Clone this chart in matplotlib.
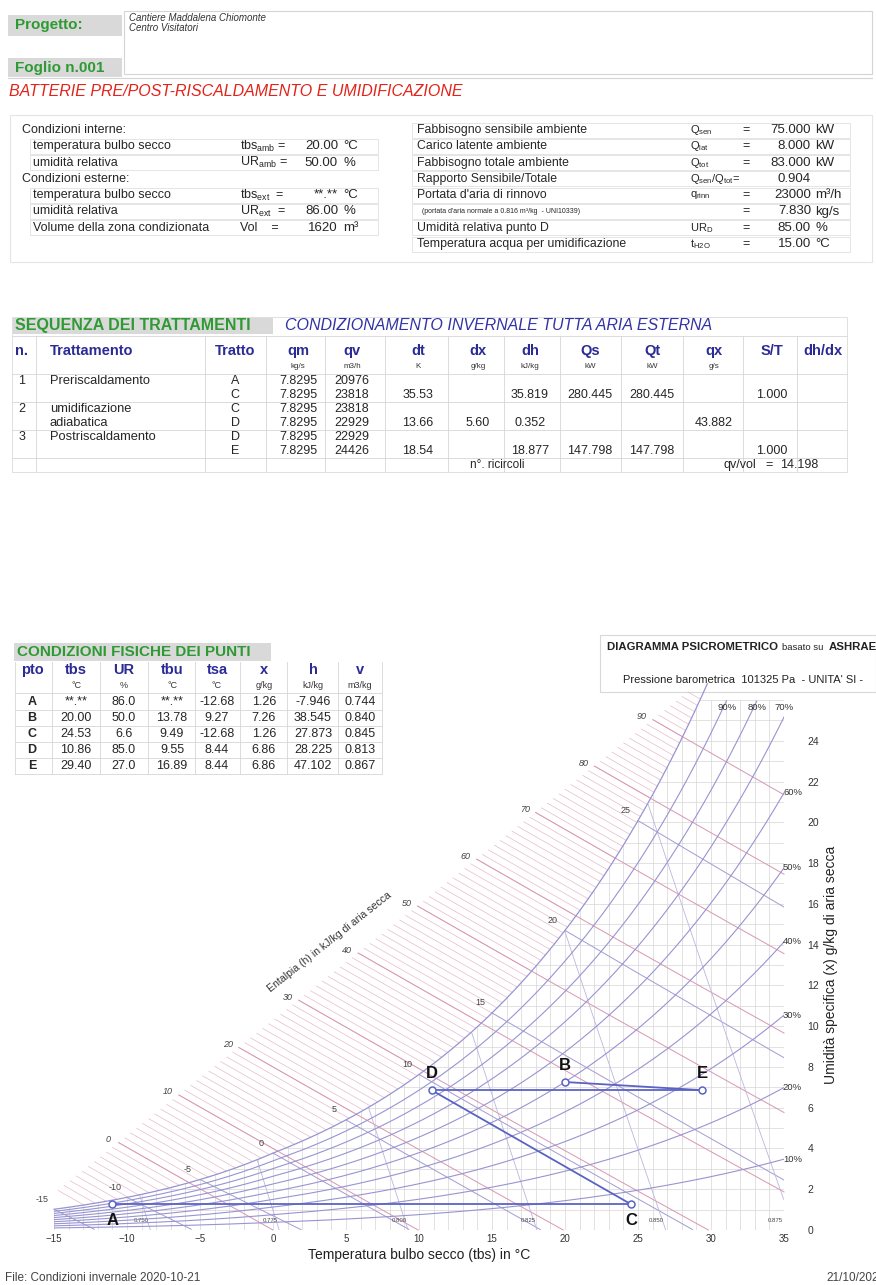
import numpy as np
import matplotlib
matplotlib.use("Agg")
import matplotlib.pyplot as plt
from matplotlib.patches import Rectangle

plt.rcParams['font.family'] = ['Liberation Sans', 'DejaVu Sans']
plt.rcParams['mathtext.fontset'] = 'custom'
plt.rcParams['mathtext.rm'] = 'Liberation Sans'
plt.rcParams['mathtext.it'] = 'Liberation Sans:italic'
plt.rcParams['mathtext.bf'] = 'Liberation Sans:bold'

# ======================= DATA =======================
progetto_righe = ["Cantiere Maddalena Chiomonte", "Centro Visitatori"]
foglio = "Foglio n.001"
titolo = "BATTERIE PRE/POST-RISCALDAMENTO E UMIDIFICAZIONE"

cond_sx_testi = ["Condizioni interne:", "temperatura bulbo secco", "umidità relativa",
                 "Condizioni esterne:", "temperatura bulbo secco", "umidità relativa",
                 "Volume della zona condizionata"]
cond_sx_simboli = ["", r"tbs$_{\rm amb}$ =", r"UR$_{\rm amb}$ =", "", r"tbs$_{\rm ext}$  =",
                   r"UR$_{\rm ext}$  =", "Vol    ="]
cond_sx_valori = ["", "20.00", "50.00", "", "**.**", "86.00", "1620"]
cond_sx_unita = ["", "°C", "%", "", "°C", "%", "m³"]

cond_dx_testi = ["Fabbisogno sensibile ambiente", "Carico latente ambiente",
                 "Fabbisogno totale ambiente", "Rapporto Sensibile/Totale",
                 "Portata d'aria di rinnovo",
                 "(portata d'aria normale a 0.816 m³/kg  - UNI10339)",
                 "Umidità relativa punto D", "Temperatura acqua per umidificazione"]
cond_dx_simboli = [r"Q$_{\rm sen}$", r"Q$_{\rm lat}$", r"Q$_{\rm tot}$",
                   r"Q$_{\rm sen}$/Q$_{\rm tot}$=", r"q$_{\rm rinn}$", "", r"UR$_{\rm D}$",
                   r"t$_{\rm H2O}$"]
cond_dx_uguale = ["=", "=", "=", "", "=", "=", "=", "="]
cond_dx_valori = ["75.000", "8.000", "83.000", "0.904", "23000", "7.830", "85.00", "15.00"]
cond_dx_unita = ["kW", "kW", "kW", "", "m³/h", "kg/s", "%", "°C"]

seq_titolo = "SEQUENZA DEI TRATTAMENTI"
seq_sottotitolo = "CONDIZIONAMENTO INVERNALE TUTTA ARIA ESTERNA"
seq_colonne = ["n.", "Trattamento", "Tratto", "qm", "qv", "dt", "dx", "dh", "Qs", "Qt", "qx", "S/T", "dh/dx"]
seq_unita = ["", "", "", "kg/s", "m3/h", "K", "g/kg", "kJ/kg", "kW", "kW", "g/s", "", ""]
seq_n = ["1", "", "2", "", "3", ""]
seq_trattamento = ["Preriscaldamento", "", "umidificazione", "adiabatica", "Postriscaldamento", ""]
seq_tratto = ["A", "C", "C", "D", "D", "E"]
seq_qm = ["7.8295", "7.8295", "7.8295", "7.8295", "7.8295", "7.8295"]
seq_qv = ["20976", "23818", "23818", "22929", "22929", "24426"]
seq_dt = ["", "35.53", "", "13.66", "", "18.54"]
seq_dx = ["", "", "", "5.60", "", ""]
seq_dh = ["", "35.819", "", "0.352", "", "18.877"]
seq_qs = ["", "280.445", "", "", "", "147.798"]
seq_qt = ["", "280.445", "", "", "", "147.798"]
seq_qx = ["", "", "", "43.882", "", ""]
seq_st = ["", "1.000", "", "", "", "1.000"]
seq_dhdx = ["", "", "", "", "", ""]
ricircoli_txt = "n°. ricircoli"
qv_vol_val = "14.198"

pt_titolo = "CONDIZIONI FISICHE DEI PUNTI"
pt_colonne = ["pto", "tbs", "UR", "tbu", "tsa", "x", "h", "v"]
pt_unita = ["", "°C", "%", "°C", "°C", "g/kg", "kJ/kg", "m3/kg"]
punti = ["A", "B", "C", "D", "E"]
punti_tbs_txt = ["**.**", "20.00", "24.53", "10.86", "29.40"]
punti_ur_txt = ["86.0", "50.0", "6.6", "85.0", "27.0"]
punti_tbu_txt = ["**.**", "13.78", "9.49", "9.55", "16.89"]
punti_tsa_txt = ["-12.68", "9.27", "-12.68", "8.44", "8.44"]
punti_x_txt = ["1.26", "7.26", "1.26", "6.86", "6.86"]
punti_h_txt = ["-7.946", "38.545", "27.873", "28.225", "47.102"]
punti_v_txt = ["0.744", "0.840", "0.845", "0.813", "0.867"]

# chart values of the points (dry bulb °C, humidity ratio g/kg)
punti_t = [-11.0, 20.00, 24.53, 10.86, 29.40]
punti_x = [1.26, 7.26, 1.26, 6.86, 6.86]
percorso = [("A", "C"), ("C", "D"), ("D", "E"), ("B", "E")]
punti_lato = ["sotto", "sopra", "sotto", "sopra", "sopra"]

ur_curve = [10, 20, 30, 40, 50, 60, 70, 80, 90]
ur_lab_destra = [10, 20, 30, 40, 50, 60]
ur_lab_alto = [90, 80, 70]
entalpie_princ = [0, 10, 20, 30, 40, 50, 60, 70, 80, 90]
bulbo_umido = [-15, -10, -5, 0, 5, 10, 15, 20, 25]
volumi = [0.750, 0.775, 0.800, 0.825, 0.850, 0.875]

# ======================= LAYOUT =======================
W, H = 876, 1285
fig = plt.figure(figsize=(W / 100, H / 100), dpi=100)
fig.patch.set_facecolor('white')
bg = fig.add_axes([0, 0, 1, 1])
bg.set_xlim(0, W)
bg.set_ylim(H, 0)
bg.axis('off')

GREEN = '#2f9a33'
BLUE = '#2b2b95'
TXT = '#262626'
GRID = '#d6d6d6'


def T(x, y, s, size=8, color=TXT, ha='left', va='center', **kw):
    return bg.text(x, y, s, fontsize=size, color=color, ha=ha, va=va, **kw)


def box(x0, y0, x1, y1, fc='none', ec='#cfcfcf', lw=0.8, z=0):
    bg.add_patch(Rectangle((x0, y0), x1 - x0, y1 - y0, facecolor=fc, edgecolor=ec, lw=lw, zorder=z))


def hl(y, x0, x1, c=GRID, lw=0.6):
    bg.plot([x0, x1], [y, y], color=c, lw=lw)


def vl(x, y0, y1, c=GRID, lw=0.6):
    bg.plot([x, x], [y0, y1], color=c, lw=lw)


# ---------- header ----------
box(124, 11, 872, 74, ec='#d4d4d4')
box(8, 15, 122, 36, fc='#d9d9d9', ec='none')
T(15, 25.5, "Progetto:", 11, GREEN, weight='bold')
T(129, 18, progetto_righe[0], 7, '#333333', style='italic')
T(129, 28, progetto_righe[1], 7, '#333333', style='italic')
box(8, 58, 122, 77, fc='#d9d9d9', ec='none')
T(15, 68, foglio, 11, GREEN, weight='bold')
hl(78, 8, 872, '#d4d4d4', 0.8)
T(9, 91, titolo, 11.5, '#e2231a', style='italic')

# ---------- conditions ----------
box(10, 115, 872, 262, ec='#e4e4e4')
y0c, dyc = 130, 16.3
for i, s in enumerate(cond_sx_testi):
    y = y0c + i * dyc
    indent = cond_sx_simboli[i] != ""
    T(33 if indent else 22, y, s, 9)
    if indent:
        box(30, y - 7.5, 378, y + 7.5, ec='#e0e0e0', lw=0.6)
        T(240, y, cond_sx_simboli[i], 9)
        T(338, y, cond_sx_valori[i], 9.5, ha='right')
        T(343, y, cond_sx_unita[i], 9.5)
for i, s in enumerate(cond_dx_testi):
    y = y0c + i * dyc
    small = s.startswith("(")
    T(417 if not small else 422, y, s, 8.8 if not small else 5)
    box(412, y - 7.5, 850, y + 7.5, ec='#e0e0e0', lw=0.6)
    if cond_dx_simboli[i]:
        T(690, y, cond_dx_simboli[i], 8)
    if cond_dx_uguale[i]:
        T(746, y, cond_dx_uguale[i], 9, ha='center')
    T(811, y, cond_dx_valori[i], 9.5, ha='right')
    if cond_dx_unita[i]:
        T(815, y, cond_dx_unita[i], 9.5)

# ---------- treatments table ----------
box(12, 317, 273, 334, fc='#d9d9d9', ec='none')
T(15, 325.5, seq_titolo, 11.5, GREEN, weight='bold')
T(285, 325.5, seq_sottotitolo, 11.5, '#3333a6', style='italic')
box(12, 317, 847, 472, ec='#e0e0e0', lw=0.7)
seq_cx = [22, 50, 235, 298, 352, 418, 478, 530, 590, 652, 714, 772, 823]
yh, yu = 351, 366
for j, c in enumerate(seq_colonne):
    T(seq_cx[j], yh, c, 10.5, BLUE, ha='left' if j == 1 else 'center', weight='bold')
    if seq_unita[j]:
        T(seq_cx[j], yu, seq_unita[j], 5.8, '#333333', ha='center')
for xb in [36, 205, 266, 325, 385, 448, 504, 560, 621, 683, 743, 797]:
    vl(xb, 336, 472)
hl(336, 12, 847)
rows_y = [381, 395, 409, 423, 437, 451]
cols = [seq_qm, seq_qv, seq_dt, seq_dx, seq_dh, seq_qs, seq_qt, seq_qx, seq_st, seq_dhdx]
for i, y in enumerate(rows_y):
    if seq_n[i]:
        T(seq_cx[0], y, seq_n[i], 9, ha='center')
    if seq_trattamento[i]:
        T(seq_cx[1], y, seq_trattamento[i], 9.3)
    T(seq_cx[2], y, seq_tratto[i], 9, ha='center')
    for j, col in enumerate(cols):
        if col[i]:
            T(seq_cx[3 + j], y, col[i], 9, ha='center')
for yb in [374, 402, 430, 458]:
    hl(yb, 12, 847)
T(470, 465, ricircoli_txt, 8.5)
T(724, 465, "qv/vol", 9)
T(769, 465, "=", 9, ha='center')
T(780, 465, qv_vol_val, 9, ha='left')

# ---------- points table ----------
box(14, 643, 271, 661, fc='#d9d9d9', ec='none')
T(17, 652, pt_titolo, 11, GREEN, weight='bold')
pt_cx = [32, 76, 124, 172, 217, 264, 313, 360]
T_h, T_u = 670, 685
for j, c in enumerate(pt_colonne):
    T(pt_cx[j], T_h, c, 10.5, BLUE, ha='center', weight='bold')
    if pt_unita[j]:
        T(pt_cx[j], T_u, pt_unita[j], 6.5, '#333333', ha='center')
pt_cols = [punti_tbs_txt, punti_ur_txt, punti_tbu_txt, punti_tsa_txt, punti_x_txt, punti_h_txt, punti_v_txt]
for i, p in enumerate(punti):
    y = 702 + i * 16
    T(pt_cx[0], y, p, 9, ha='center', weight='bold')
    for j, col in enumerate(pt_cols):
        T(pt_cx[j + 1], y, col[i], 9, ha='center')
    hl(y + 8, 15, 382)
for xb in [15, 52, 100, 148, 195, 240, 287, 338, 382]:
    vl(xb, 662, 774)
hl(693, 15, 382)

# ---------- diagram header ----------
box(600, 635, 876, 692, ec='#d8d8d8')
T(607, 647, "DIAGRAMMA PSICROMETRICO", 8.2, '#222222', weight='bold')
T(782, 647, "basato su", 6.8, '#222222')
T(829, 647, "ASHRAE", 8.2, '#222222', weight='bold')
T(623, 680, "Pressione barometrica  101325 Pa  - UNITA' SI -", 8, '#222222')

# ---------- footer ----------
T(5, 1278, "File: Condizioni invernale 2020-10-21", 8.5, '#444444')
T(826, 1278, "21/10/2020", 8.5, '#444444')

# ======================= PSYCHROMETRIC CHART =======================
P_ATM = 101.325


def p_sat(t):
    t = np.asarray(t, float)
    Tk = t + 273.15
    ln_w = (-5.8002206e3 / Tk + 1.3914993 - 4.8640239e-2 * Tk + 4.1764768e-5 * Tk ** 2
            - 1.4452093e-8 * Tk ** 3 + 6.5459673 * np.log(Tk))
    ln_i = (-5.6745359e3 / Tk + 6.3925247 - 9.677843e-3 * Tk + 6.2215701e-7 * Tk ** 2
            + 2.0747825e-9 * Tk ** 3 - 9.484024e-13 * Tk ** 4 + 4.1635019 * np.log(Tk))
    return np.exp(np.where(t >= 0, ln_w, ln_i)) / 1000.0


def x_rh(t, rh):
    pv = rh * p_sat(t)
    return 622.0 * pv / (P_ATM - pv)


def enth(t, x):
    return 1.006 * t + x * (2501 + 1.86 * t) / 1000.0


t_fine = np.linspace(-25, 45, 7001)
x_fine = x_rh(t_fine, 1.0)
h_fine = enth(t_fine, x_fine)


def t_sat_of_x(x):
    return np.interp(x, x_fine, t_fine)


def sat_of_h(h):
    t = np.interp(h, h_fine, t_fine)
    return t, x_rh(t, 1.0)


def x_on_h(t, h):
    return 1000.0 * (h - 1.006 * t) / (2501 + 1.86 * t)


T_MIN, T_MAX, X_MAX = -15, 35, 26
CH_L, CH_R, CH_T, CH_B = 54, 784, 700, 1230
ax = fig.add_axes([CH_L / W, 1 - CH_B / H, (CH_R - CH_L) / W, (CH_B - CH_T) / H])
ax.set_xlim(T_MIN, T_MAX)
ax.set_ylim(0, X_MAX)
ax.patch.set_alpha(0)
for s in ax.spines.values():
    s.set_visible(False)

# enthalpy scale line (straight, in chart coords)
TS0, XS0, A_S, B_S = -10.34, 4.42, 0.411, 0.233
s_grid = np.linspace(-60, 140, 8001)
sl_t = TS0 + A_S * s_grid
sl_x = XS0 + B_S * s_grid
sl_h = enth(sl_t, sl_x)


def scale_point(h):
    s = np.interp(h, sl_h, s_grid)
    return TS0 + A_S * s, XS0 + B_S * s


# dry bulb vertical grid
for t in range(T_MIN, T_MAX + 1):
    top = min(float(x_rh(t, 1.0)), X_MAX)
    ax.plot([t, t], [0, top], color=GRID, lw=0.5, zorder=1)
# humidity horizontal grid
for x in range(1, X_MAX + 1):
    ax.plot([max(t_sat_of_x(x), T_MIN), T_MAX], [x, x], color=GRID, lw=0.5, zorder=1)
for x in np.arange(0.25, 1.01, 0.25):
    ax.plot([T_MIN, min(t_sat_of_x(x), T_MAX)], [x, x], color=GRID, lw=0.4, zorder=1)

# hatched enthalpy region
for h in range(-10, 97):
    ts, xs = scale_point(h)
    th, xh = sat_of_h(h)
    if xs > 27.2 or xs <= float(x_rh(ts, 1.0)):
        continue
    ax.plot([ts, th], [xs, xh], color='#e9b9cb', lw=0.5, zorder=1, clip_on=False)

# main enthalpy lines
for h in entalpie_princ:
    ts, xs = scale_point(h)
    t_end = min(h / 1.006, T_MAX)
    tt = np.linspace(ts, t_end, 200)
    xx = x_on_h(tt, h)
    m = xx >= -1e-6
    ax.plot(tt[m], xx[m], color='#d996b2', lw=0.7, zorder=2, clip_on=False)
    ax.annotate(f"{h}", (ts, xs), xytext=(-11, 3), textcoords='offset pixels',
                fontsize=6.5, style='italic', color='#444444', ha='center', va='center',
                annotation_clip=False)
ts40, xs40 = scale_point(40)
ax.annotate("Entalpia (h) in kJ/kg di aria secca", (ts40, xs40), xytext=(-29, 11),
            textcoords='offset pixels', fontsize=7.6, color='#333333', rotation=38.4,
            ha='center', va='center', rotation_mode='anchor', annotation_clip=False)

# wet bulb lines
for twb in bulbo_umido:
    ws = float(x_rh(twb, 1.0)) / 1000.0
    tt = np.linspace(twb, T_MAX, 400)
    if twb >= 0:
        ww = ((2501 - 2.326 * twb) * ws - 1.006 * (tt - twb)) / (2501 + 1.86 * tt - 4.186 * twb)
    else:
        ww = ((2830 - 0.24 * twb) * ws - 1.006 * (tt - twb)) / (2830 + 1.86 * tt - 2.1 * twb)
    xx = ww * 1000
    m = xx >= 0
    ax.plot(tt[m], xx[m], color='#a29bd3', lw=0.7, zorder=2)
    ax.annotate(f"{twb}", (twb, ws * 1000), xytext=(-12, 10), textcoords='offset pixels',
                fontsize=6.5, color='#444444', ha='center', va='center', annotation_clip=False)

# specific volume lines
for v in volumi:
    xx = np.linspace(0, 30, 600)
    tt = v * P_ATM / (0.287042 * (1 + 1.6078 * xx / 1000)) - 273.15
    m = (xx <= x_rh(tt, 1.0)) & (tt <= T_MAX) & (xx <= X_MAX)
    ax.plot(tt[m], xx[m], color='#bdb5de', lw=0.6, zorder=2)
    t0 = v * P_ATM / 0.287042 - 273.15
    ax.annotate(f"{v:.3f}", (min(t0, T_MAX), 0.45), xytext=(-9, 0), textcoords='offset pixels',
                fontsize=4.3, color='#444444', ha='center', va='center', annotation_clip=False)

# relative humidity curves
tt = np.linspace(T_MIN, T_MAX, 800)
for rh in ur_curve:
    xx = x_rh(tt, rh / 100)
    m = xx <= X_MAX
    ax.plot(tt[m], xx[m], color='#9894d2', lw=0.8, zorder=3)
for rh in ur_lab_destra:
    ax.annotate(f"{rh}%", (T_MAX, float(x_rh(T_MAX, rh / 100))), xytext=(18, 0),
                textcoords='offset pixels', fontsize=6.8, color='#333333', ha='right',
                va='center', annotation_clip=False)
for rh in ur_lab_alto:
    t_top = min(float(np.interp(X_MAX, x_rh(tt, rh / 100), tt)), T_MAX + 0.6)
    ax.annotate(f"{rh}%", (t_top, X_MAX), xytext=(0, -3), textcoords='offset pixels',
                fontsize=6.8, color='#333333', ha='center', va='top', annotation_clip=False)

# saturation curve
t_s = np.linspace(T_MIN, t_sat_of_x(26.8), 400)
ax.plot(t_s, x_rh(t_s, 1.0), color='#9894d2', lw=0.9, zorder=3, clip_on=False)

# process
idx = {p: i for i, p in enumerate(punti)}
for a, b in percorso:
    ax.plot([punti_t[idx[a]], punti_t[idx[b]]], [punti_x[idx[a]], punti_x[idx[b]]],
            color='#5a63c4', lw=1.3, zorder=5)
ax.plot(punti_t, punti_x, 'o', ms=5, mfc='white', mec='#5a63c4', mew=1.1, zorder=6, ls='none')
for i, p in enumerate(punti):
    off = (0, -16) if punti_lato[i] == "sotto" else (0, 17)
    ax.annotate(p, (punti_t[i], punti_x[i]), xytext=off, textcoords='offset pixels',
                fontsize=12, weight='bold', color='#111111', ha='center', va='center')

# axes ticks / labels
ax.set_xticks(range(-15, 36, 5))
ax.tick_params(axis='x', length=0, pad=3, labelsize=7, labelcolor='#333333')
ax.yaxis.tick_right()
ax.set_yticks(range(0, 25, 2))
ax.tick_params(axis='y', length=0, pad=17, labelsize=7.5, labelcolor='#333333')
ax.set_xlabel("Temperatura bulbo secco (tbs) in °C", fontsize=10, labelpad=3, color='#222222')
ax.yaxis.set_label_position('right')
ax.set_ylabel("Umidità specifica (x) g/kg di aria secca", fontsize=10, labelpad=3, color='#222222')

fig.savefig("out.png", dpi=100, facecolor='white')
